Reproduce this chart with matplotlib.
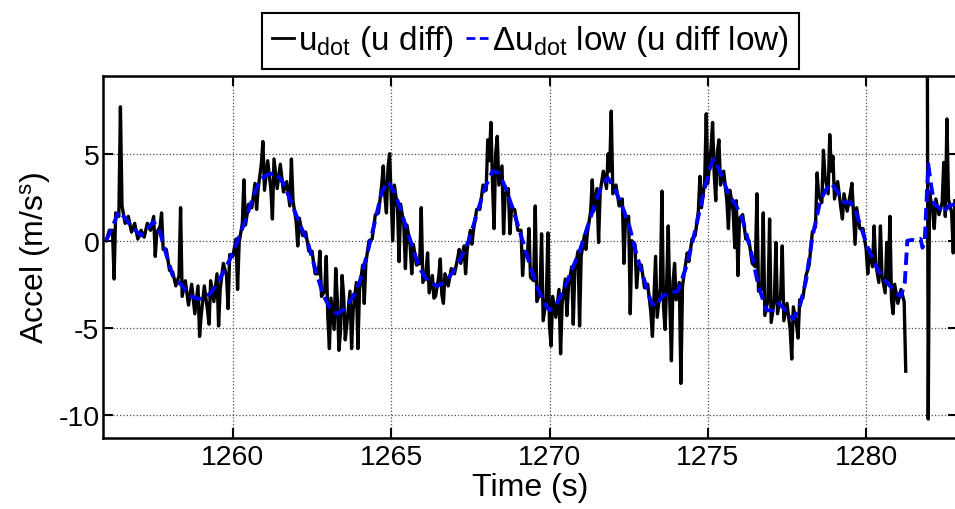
import matplotlib
matplotlib.use('Agg')
import matplotlib.pyplot as plt
import numpy as np

plt.rcParams['font.family'] = ['Liberation Sans', 'DejaVu Sans']
plt.rcParams['mathtext.fontset'] = 'custom'
plt.rcParams['mathtext.rm'] = 'Liberation Sans'
plt.rcParams['mathtext.it'] = 'Liberation Sans'
plt.rcParams['axes.unicode_minus'] = False

nan = np.nan

# raw u diff: the dense noise band, one sample every 0.1 s from 1256.0 s (one row per second)
band_y = [
    0.0, 0.6, 0.6, 1.6, 1.4, 2.0, 1.0, 1.4, 0.5, 1.0,             # 1256
    0.1, 0.6, 0.2, 1.0, 0.6, 1.4, 0.5, 0.8, -0.5, -0.5,           # 1257
    -1.7, -1.8, -2.6, -2.0, -3.2, -2.3, -3.7, -2.5, -4.2, -2.6,   # 1258
    -4.3, -2.6, -4.0, -2.3, -3.5, -1.9, -2.8, -1.3, -2.0, -0.8,   # 1259
    -0.9, 0.1, -0.1, 1.0, 0.9, 2.1, 1.9, 3.3, 3.0, 4.4,           # 1260
    2.9, 4.6, 3.0, 4.7, 3.0, 4.4, 2.8, 3.4, 2.0, 2.3,             # 1261
    1.1, 1.3, 0.3, 0.5, -0.6, -0.6, -1.9, -1.9, -3.2, -2.9,       # 1262
    -4.4, -3.3, -5.1, -3.4, -5.2, -3.2, -4.8, -2.9, -4.0, -2.4,   # 1263
    -2.8, -1.4, -1.3, 0.0, 0.1, 1.5, 1.6, 3.2, 2.6, 4.2,          # 1264
    2.5, 3.2, 1.9, 2.1, 0.9, 0.9, -0.3, -0.2, -1.4, -1.3,         # 1265
    -2.4, -1.8, -3.0, -2.0, -3.2, -2.1, -3.1, -1.9, -2.6, -1.6,   # 1266
    -1.9, -1.0, -1.3, -0.3, -0.5, 0.6, 0.6, 1.8, 1.8, 3.2,        # 1267
    2.9, 4.6, 3.3, 5.0, 3.2, 4.3, 2.7, 3.0, 1.8, 1.8,             # 1268
    0.6, 0.6, -0.6, -0.9, -2.1, -2.3, -3.5, -3.0, -4.6, -3.3,     # 1269
    -4.9, -3.2, -4.4, -2.8, -3.6, -2.2, -2.6, -1.5, -1.7, -0.6,   # 1270
    -0.9, 0.3, 0.5, 1.7, 1.7, 3.0, 2.8, 4.0, 3.0, 4.0,            # 1271
    2.7, 3.2, 2.0, 2.4, 1.2, 1.4, 0.0, -0.2, -1.5, -1.4,          # 1272
    -2.7, -2.5, -4.1, -3.2, -4.4, -2.7, -3.8, -2.5, -3.6, -2.4,   # 1273
    -3.4, -2.4, -2.6, -1.3, -1.2, 0.1, 0.3, 1.7, 1.9, 3.4,        # 1274
    3.3, 5.3, 3.9, 5.1, 3.2, 4.0, 2.3, 2.9, 1.7, 2.3,             # 1275
    1.3, 1.5, 0.1, 0.0, -1.3, -1.5, -2.9, -2.8, -4.3, -3.4,       # 1276
    -4.7, -3.4, -4.2, -3.1, -4.6, -3.6, -5.1, -3.8, -4.8, -3.4,   # 1277
    -3.3, -2.0, -1.4, 0.5, 0.8, 2.6, 2.2, 3.7, 2.7, 4.0,          # 1278
    2.4, 3.4, 1.9, 2.7, 1.7, 2.7, 1.6, 1.9, 0.7, 0.7,             # 1279
    -0.5, -0.5, -1.5, -1.3, -2.4, -2.0, -3.0, -2.3, -3.4, -2.5,   # 1280
    -3.6, -2.8, -3.5, nan, nan, nan, nan, nan, nan, nan,          # 1281
    2.8, 1.7, 2.4, 1.5, 2.2, 1.4, 2.4, 1.6, 2.3,                  # 1282
]
band_t = 1256.0 + 0.1 * np.arange(len(band_y))

# raw u diff: single-sample spikes sticking out of the band
spike_t = [1256.25, 1256.45, 1257.55, 1257.75, 1258.35, 1258.95, 1259.25, 1259.55, 1259.85,
           1260.15, 1260.35, 1260.75, 1260.95, 1261.25, 1261.85, 1262.05, 1262.75, 1262.95,
           1263.05, 1263.25, 1263.35, 1263.45, 1263.55, 1263.75, 1263.95, 1264.15, 1264.75,
           1264.85, 1264.95, 1265.05, 1265.25, 1265.45, 1265.65, 1265.95, 1266.15, 1266.35,
           1266.55, 1266.65, 1267.15, 1267.35, 1267.55, 1268.05, 1268.15, 1268.25, 1268.35,
           1268.55, 1268.75, 1269.15, 1269.35, 1269.55, 1269.75, 1269.95, 1270.05, 1270.35,
           1270.55, 1270.75, 1270.95, 1271.15, 1271.35, 1271.55, 1271.85, 1271.95, 1272.35,
           1272.55, 1272.75, 1273.25, 1273.35, 1273.55, 1273.65, 1273.75, 1273.85, 1273.95,
           1274.15, 1274.35, 1274.75, 1274.95, 1275.15, 1275.25, 1275.35, 1275.65, 1275.85,
           1275.95, 1276.55, 1276.75, 1276.95, 1277.15, 1277.35, 1277.65, 1277.85, 1278.45,
           1278.65, 1278.85, 1278.95, 1279.25, 1279.55, 1279.65, 1280.05, 1280.25, 1280.45,
           1280.65, 1280.75, 1280.85, 1281.25, 1281.93, 1281.96, 1282.15, 1282.45, 1282.55,
           1282.75]
spike_y = [-2.2, 7.7, -0.9, 1.6, 1.9, -5.5, -4.8, -4.9, -3.9,
           -2.8, 3.5, 1.8, 5.7, 1.25, 4.7, -0.3, -0.6, -0.9,
           -6.2, -1.6, -6.3, -2.0, -5.7, -6.2, -6.2, -3.6, 4.3,
           1.6, 5.0, 0.0, -1.2, -1.6, -1.9, 1.9, -0.7, -3.3,
           -1.05, -3.6, -0.5, -1.9, -0.2, 5.8, 6.8, 0.7, 6.0,
           0.4, 0.4, -2.0, 0.7, 2.0, 0.4, 0.45, -6.05, -6.5,
           -4.3, -4.8, -4.9, -0.5, 3.5, -0.1, 5.0, 7.45, -1.3,
           -4.2, -2.7, -5.5, -0.9, 2.85, -5.1, 0.85, -6.9, -1.3,
           -8.2, -0.7, 3.7, 7.3, 6.8, 2.3, 5.8, 0.7, -0.4,
           -2.0, 2.7, 1.6, 1.25, -0.1, -0.3, -6.8, -5.6, 3.9,
           5.2, 6.1, 4.85, 1.25, 3.3, -0.2, -1.9, 0.85, 0.85,
           -0.1, 1.4, -4.2, -7.5, 12.0, -10.25, 0.7, 4.5, 7.0,
           -0.7]

# low-pass filtered signal
lp_t = [1256.0, 1256.2, 1256.4, 1256.6, 1256.8, 1257.1, 1257.3, 1257.5, 1257.7, 1257.9,
        1258.1, 1258.3, 1258.5, 1258.7, 1258.9, 1259.1, 1259.3, 1259.5, 1259.7, 1259.9,
        1260.15, 1260.4, 1260.6, 1260.85, 1261.1, 1261.35, 1261.6, 1261.85, 1262.1, 1262.35,
        1262.6, 1262.85, 1263.1, 1263.3, 1263.55, 1263.8, 1264.0, 1264.25, 1264.5, 1264.7,
        1264.9, 1265.1, 1265.3, 1265.5, 1265.7, 1265.9, 1266.15, 1266.45, 1266.7, 1266.95,
        1267.2, 1267.45, 1267.7, 1267.95, 1268.2, 1268.4, 1268.6, 1268.85, 1269.1, 1269.35,
        1269.6, 1269.8, 1270.0, 1270.2, 1270.45, 1270.7, 1270.95, 1271.2, 1271.45, 1271.65,
        1271.85, 1272.05, 1272.25, 1272.5, 1272.75, 1273.0, 1273.2, 1273.35, 1273.55, 1273.8,
        1274.05, 1274.3, 1274.5, 1274.7, 1274.9, 1275.1, 1275.2, 1275.4, 1275.65, 1275.9,
        1276.1, 1276.35, 1276.6, 1276.85, 1277.05, 1277.25, 1277.45, 1277.7, 1277.9, 1278.1,
        1278.3, 1278.55, 1278.75, 1278.9, 1279.1, 1279.3, 1279.5, 1279.65, 1279.85, 1280.05,
        1280.3, 1280.5, 1280.75, 1280.95, 1281.1, 1281.22, 1281.3, 1281.45, 1281.6, 1281.72,
        1281.78, 1281.85, 1281.96, 1282.05, 1282.15, 1282.3, 1282.45, 1282.6, 1282.8]
lp_y = [0.0, 0.8, 1.7, 1.3, 0.8, 0.3, 0.7, 1.1, 0.5, -0.8,
        -2.0, -2.4, -2.8, -3.2, -3.35, -3.3, -3.0, -2.5, -1.8, -1.1,
        0.0, 1.2, 2.3, 3.5, 3.8, 3.9, 3.3, 2.2, 1.0, 0.0,
        -1.6, -3.1, -4.0, -4.2, -3.9, -3.2, -2.4, -0.7, 1.2, 2.8,
        3.4, 2.8, 1.8, 0.6, -0.5, -1.6, -2.3, -2.6, -2.4, -1.8,
        -1.0, 0.0, 1.5, 3.0, 4.0, 3.9, 3.1, 1.8, 0.3, -1.2,
        -2.6, -3.5, -4.0, -3.7, -2.8, -1.7, -0.6, 0.8, 2.2, 3.2,
        3.6, 3.0, 2.2, 1.0, -0.8, -2.3, -3.5, -3.8, -3.2, -3.0,
        -2.9, -1.6, -0.2, 1.4, 3.0, 4.4, 4.7, 3.9, 2.7, 2.0,
        1.2, -0.5, -2.6, -4.0, -4.0, -3.6, -4.0, -4.5, -3.8, -2.3,
        0.2, 2.3, 3.0, 3.3, 2.8, 2.2, 2.2, 1.8, 0.7, -0.4,
        -1.4, -2.1, -2.6, -3.0, -3.2, -2.4, 0.0, 0.05, 0.0, 0.1,
        -0.4, 0.0, 4.4, 3.2, 2.1, 1.9, 1.6, 2.0, 2.1]

x_ticks = [1260, 1265, 1270, 1275, 1280]
y_ticks = [-10, -5, 0, 5]

# band and spikes together make the raw trace, in time order
raw_t = np.concatenate([band_t, spike_t])
raw_y = np.concatenate([band_y, spike_y])
order = np.argsort(raw_t, kind='stable')
raw_t, raw_y = raw_t[order], raw_y[order]

fig = plt.figure(figsize=(9.55, 5.10), dpi=100)
ax = fig.add_axes([103/955, 1 - 439/510, (958 - 103)/955, (439 - 77)/510])

ax.plot(raw_t, raw_y, color='k', lw=2.4, label=r'u$_{\mathrm{dot}}$ (u diff)')
ax.plot(lp_t, lp_y, color=(0, 0, 1), lw=2.8, dashes=(3.2, 1.6),
        label=r'$\Delta$u$_{\mathrm{dot}}$ low (u diff low)')

ax.set_xlim(1255.9, 1282.9)
ax.set_ylim(-11.34, 9.47)
ax.set_xticks(x_ticks)
ax.set_yticks(y_ticks)
ax.grid(True, ls=':', color='0.3', lw=0.9)
ax.tick_params(direction='in', top=True, right=True, length=7, width=1.5,
               labelsize=20.5, pad=4)
ax.tick_params(axis='y', pad=2.5)
for s in ax.spines.values():
    s.set_linewidth(1.8)

ax.set_xlabel('Time (s)', fontsize=23, labelpad=1.5)
ax.set_ylabel(r'Accel (m/s$^{\mathrm{s}}$)', fontsize=23, labelpad=4)

leg = ax.legend(loc='lower center', bbox_to_anchor=(0.5, 1.019), ncol=2, fontsize=24,
                frameon=True, fancybox=False, edgecolor='k', framealpha=1,
                handlelength=0.65, handletextpad=0.12, columnspacing=0.35,
                borderpad=0.32, borderaxespad=0)
leg.get_frame().set_linewidth(1.5)
for h in leg.get_lines():
    h.set_linewidth(2.0)

fig.savefig('out.png', dpi=100)
